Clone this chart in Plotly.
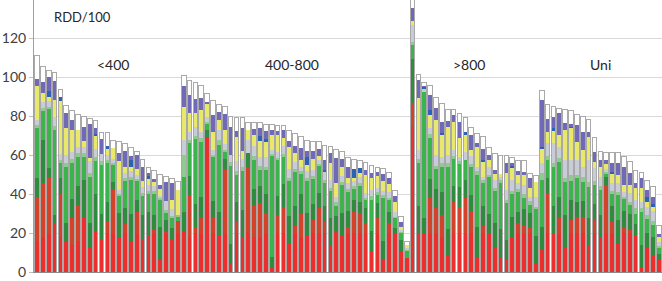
import plotly.graph_objects as go

# ---- data (segment heights, bottom to top, one value per bar) ----
red = [16,18,20,25,18,16,14,16,28,13, 20.7,16.8,20,20,18.1,20,15.9,20,16.4,18.6,
       20,6.2,20,16.8,20, 20.7,18,20,20,69.4, 20,19,20,4.4,20,18,20,18,18,20,
       2.7,20,20,14.7,20,18,18.5,20,20,20, 13.8,20,18.5,20,20,20,20,11,20,6,
       20,19.8,10.4,7, 74.5,20,19.8,20,20,18, 8,20,20,20,20,7.9,20,19.8,13,7,
       6.2,18.1,20,20,20,4.4, 11.3,20,19.8,20, 13,20,20,20,13.8,20,17.3,20,20,14.7,
       20,20,18.8,1.9,12.1,8,6]
darkred = [22.6,27.5,28.5,0,22,0,13.9,18.4,0,0, 0,0,6.3,22.4,0,4.6,0,10.9,0,0,
           1.5,0,0.7,0,6.2, 0,21.5,3,8.4,0, 8.4,0,32.8,0,5.8,0,34,16.4,17.2,10.1,
           0,9.2,13.2,0,4.1,12.1,0,6.7,12.6,5.8, 0,0.7,0,3.2,10.9,10.1,5,0,7.5,0,
           5,0,0,0, 12,0,0,17.8,12.6,11.2, 0,16,13.5,17.8,11.3,0,3.8,0,0,0,
           0,0,5,4.1,2.4,0, 0,20.3,0,8.4, 0,6.7,8,8.4,0,6.7,0,24.6,5.8,0,
           3.2,1.5,0,0,0,0,0]
dkgreen = [9.4,22.2,5,4,8,9,9.6,9.6,19,12, 19.3,13.2,9.7,4,12,8.4,14.1,6,12.6,12.4,
           7.5,17,6,6,0, 10,9.5,12,10,3.4, 8,12,5,10,10,14,6.9,8,9,10,
           5,10,12,14,10,10,12,8,8,8, 14,8,12,8,6,6,8,10,8,10,
           6,3,6,0, 22.5,14,8,10,10,12, 14,8,10,9.4,8,15,10,10,12,15,
           10,10,6,8,8,14, 12,8,14,10, 16,10,8,8,14,8,12,4,8,12,
           8,8,6,12,8,10,3]
green = [25.7,15.3,30.5,44,8,29,18.5,15,12,23.7, 17,25,20,8.5,9,14,17,10,10,9,
         11,14,4,5,2.5, 18,17,33,28.5,3.4, 22.7,34,4,40,14,20,0,15,8,12,
         52,18,14,18,17,10,16,13,14,12, 14,5,14,10,6,8,4,16,4,22,
         6,5,4,4, 7.4,22,64.7,21,10,12.8, 32,14,12,10,15,27,12,19,17,24,
         19,12,10,6,4,14, 24,9,20,18, 17,10,12,10,16,10,13,2,6,13,
         6,5,5,17,7,6,3.5]
ltgreen = [1.5,1,0.5,2,1.5,2,2,2,2,2, 2,2,1.5,1,1,1,1.5,1,1.5,1.5,
           1.5,1,1,1,0.5, 11.5,1.5,1.5,1.6,0.8, 1,2.7,1,2,2,2,0,2,2,2,
           1,1.5,1.5,1.5,1.5,1.5,1.5,1.5,1,1.5, 1.5,2,1.5,1.5,1,1.5,1,2,1.5,1.5,
           1,0.5,0.5,0.5, 1.6,2,0,2,2,2, 2,1.5,1.5,0,1,2,1.5,1,1,1,
           1.5,1.5,1.5,2,2,1, 3.5,2,2,2, 2,3,2,2.5,2.5,2,2,0.5,1.5,1.5,
           1.5,1.5,2.8,2,2,2,1]
grey = [3,3,3,4.5,3,4,3.5,3,3,6, 4,3.5,2.5,2,2,3,3.5,2,3,3,
        2.5,1,4.5,3.5,0, 7.5,4.5,5,3.5,2.7, 2.5,5.1,3,3.6,5,4,6.8,5,5,5,
        2,3,4,4.8,4,2.5,4,3,2,4, 4,3,3,3,3,3,2.3,3,2,2,
        3,2.6,0.5,0.6, 8.5,4.6,1.5,2.9,5.4,3, 4,3.1,2,4.5,4,2.1,1.6,4.2,4,1.5,
        5.3,5.6,3,4.5,2,5.2, 4.9,6.7,10.2,5.9, 9.4,7.7,7.4,5.1,11.1,6.5,4.6,1.5,4.2,4.3,
        2.5,4.3,4.3,3.1,4.4,5.5,2]
yellow = [17.4,5,2,8.5,27,13.8,11.3,9,3,1.8, 7,0,3.5,5.5,15,3,2,3,3,3.5,
          2,3.5,0,4.5,12.8, 16.7,9.4,7.2,11,6.5, 9.4,5.2,7,0,12.6,4,5.1,6,8,8,
          7.5,8.5,4,11.3,4.3,3.3,3,6,2,0, 8.4,7,5,2.3,1.5,2,9.4,6,6,5,
          4,5.1,1.8,1.7, 2.2,26.4,0,6.8,18,11.3, 14.5,14.4,9.5,8.6,3.3,10.3,7.7,3.4,3.3,2,
          8.6,6.5,4.5,5.1,4.5,7.7, 7.2,6,6.8,6, 15.4,16.8,9.4,8.6,12,3.4,5.1,2.8,5.1,4.2,
          3.4,4.3,6,6.9,2.5,2,2.5]
blue = [0,0,3.5,0,2,0,0,0,0,0, 1,0,1,0,0,0,3.5,0,0,1,
        0,0,0,0,0, 0,0,0,0,0, 0,0,0,0,0,0,0,0,2.5,1,
        0,0,0,0,0,0,4,0,0,1, 0,0,0,0,4.5,2.5,0,0,0,0,
        0,0,0,0, 0,0,1,2.5,0,0.8, 0,0,0,1.7,0,0,0.8,0,0,0,
        0,0.8,0,0,0,0, 1.4,0,0.9,0, 0,0.5,0,0,0,0,0,0,0.8,0,
        0,0,0,0,2.6,1.5,0]
purple = [3.2,5.6,7,10,0,7.6,5,0,7.5,17.5, 3,7.5,0,0,4,8,2,7,7.5,2,
          1.5,2,10,8.7,0, 11,9.4,7.2,6.4,1, 8.7,4.2,8,14.5,3,12,0,3,4,4,
          2.5,2,4,3,3.7,6,3,4,3.5,5, 5.1,13,4,6,0,0,2.6,3,2.3,4,
          3,3,2.6,0, 6.8,9.5,0.5,7.8,5.9,6, 3,3.5,8.6,0,7.7,2,5.5,2.6,2,0,
          5.1,1.5,2,1.7,5.1,0, 23.9,6.3,6,11.1, 3.4,1,8.6,9.4,2.6,5.1,3.4,2,4.3,6,
          9.4,6,2.6,5.1,3.4,3.6,1.5]
white = [12,8,3.2,4.4,4.2,4.2,4.9,8,5.2,2.6, 3.6,3.6,7,3.9,5.6,4,4.5,1.8,3.8,2.7,
         4.5,5.4,2.9,2.7,4.5, 5.5,7.3,8.2,6.2,4.1, 7.5,3.6,4,5.2,6.9,5.3,4,3.2,2.9,3.8,
         2.9,3,2.5,5.2,6.5,6,5.4,4.8,3.6,7.7, 3.5,4.2,3.9,4.8,4.9,4,3.8,3.4,2.4,2.5,
         2.9,2.7,2.9,1.9, 6.5,2.7,1.9,4.6,5.7,9.4, 5.9,2.9,4.3,7.3,3.9,4.8,6.5,3.8,8.6,9.5,
         3.8,2.5,5.4,6,2.3,3.3, 5.1,7.5,5.1,2.3, 7.2,7,5.6,8,6.3,7.4,4.5,3.8,5.5,5.5,
         5.1,6,6.5,2.9,4.8,5.5,4.4]

group_labels = ["<400", "400-800", ">800", "Uni"]
group_label_x = [13.9, 44.5, 74.6, 97.1]
y_title = "RDD/100"
y_ticks = [0, 20, 40, 60, 80, 100, 120]

series = [
    (red, "#ea2f2d"), (darkred, "#d2432a"), (dkgreen, "#2f8c3e"),
    (green, "#3bb44b"), (ltgreen, "#8dcc8e"), (grey, "#c7ccd6"),
    (yellow, "#e7e86c"), (blue, "#2b62b3"), (purple, "#7069b8"),
    (white, "#ffffff"),
]

n = len(red)
xs = list(range(1, n + 1))

fig = go.Figure()
for vals, col in series:
    fig.add_trace(go.Bar(x=xs, y=vals, marker=dict(color=col, line=dict(width=0)),
                         showlegend=False, hoverinfo="skip"))

totals = [sum(t) for t in zip(*[s[0] for s in series])]
fig.add_trace(go.Bar(x=xs, y=totals, xaxis="x2",
                     marker=dict(color="rgba(0,0,0,0)", line=dict(color="#a9a9a9", width=1)),
                     showlegend=False, hoverinfo="skip"))

font_family = "Lato, 'Open Sans', sans-serif"
annotations = [dict(x=gx, y=106.2, text=gl, showarrow=False, xref="x", yref="y",
                    font=dict(family=font_family, size=14, color="#262626"))
               for gl, gx in zip(group_labels, group_label_x)]
annotations.append(dict(x=3.6, y=130.8, text=y_title, showarrow=False, xref="x", yref="y",
                        xanchor="left", font=dict(family=font_family, size=13, color="#262626")))

fig.update_layout(
    width=662, height=281,
    margin=dict(l=34, r=0, t=0, b=9, pad=0),
    barmode="stack", bargap=0.2,
    plot_bgcolor="white", paper_bgcolor="white",
    font=dict(family=font_family, size=14, color="#404040"),
    xaxis=dict(range=[0.5, n + 0.5], showticklabels=False, showgrid=False, zeroline=False,
               showline=True, linecolor="#8a8a8a", linewidth=1, mirror=True, ticks=""),
    xaxis2=dict(range=[0.5, n + 0.5], overlaying="x", visible=False),
    yaxis=dict(range=[0, 139.5], tickvals=y_ticks, showgrid=True, gridcolor="#d9d9d9",
               gridwidth=1, zeroline=False, showline=True, linecolor="#a0a0a0", mirror=True,
               ticks="outside", ticklen=4, tickcolor="#bfbfbf",
               tickfont=dict(size=14, color="#404040")),
    annotations=annotations,
)

fig.write_html("out.html")
